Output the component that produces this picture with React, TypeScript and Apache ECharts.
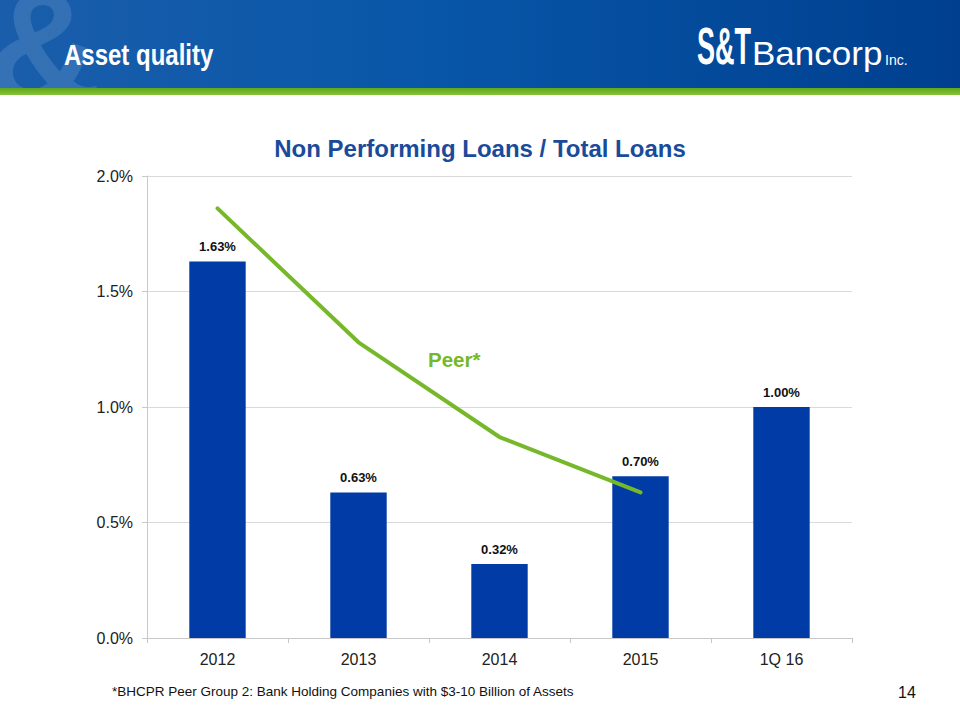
import React, { useEffect, useRef } from "react";
import * as echarts from "echarts";

const categories = ["2012", "2013", "2014", "2015", "1Q 16"];
const npl = [1.63, 0.63, 0.32, 0.7, 1.0];
const peer = [1.86, 1.28, 0.87, 0.63, null];
const yTicks = [0, 0.5, 1.0, 1.5, 2.0];

export default function App() {
  const ref = useRef<HTMLDivElement>(null);
  useEffect(() => {
    if (!ref.current) return;
    const chart = echarts.init(ref.current, null, { renderer: "svg" });
    const font = "Arial, 'Liberation Sans', sans-serif";
    chart.setOption({
      animation: false,
      backgroundColor: "#ffffff",
      title: {
        text: "Non Performing Loans / Total Loans",
        left: "center",
        top: 131,
        textStyle: { color: "#1a4b9b", fontSize: 24, fontWeight: "bold", fontFamily: font },
      },
      grid: { left: 147, right: 108, top: 176, bottom: 82 },
      xAxis: {
        type: "category",
        data: categories,
        axisLine: { lineStyle: { color: "#c8c8c8" } },
        axisTick: { show: true, length: 5, lineStyle: { color: "#c8c8c8" } },
        axisLabel: { color: "#222", fontSize: 16, fontFamily: font, margin: 13 },
      },
      yAxis: {
        type: "value",
        min: yTicks[0],
        max: yTicks[yTicks.length - 1],
        interval: 0.5,
        axisLine: { show: true, lineStyle: { color: "#c8c8c8" } },
        axisTick: { show: true, length: 5, lineStyle: { color: "#c8c8c8" } },
        splitLine: { lineStyle: { color: "#dadada" } },
        axisLabel: {
          color: "#222",
          fontSize: 16,
          fontFamily: font,
          margin: 14,
          formatter: (v: number) => v.toFixed(1) + "%",
        },
      },
      series: [
        {
          type: "bar",
          data: npl,
          barWidth: "40%",
          itemStyle: { color: "#003ba6" },
          label: {
            show: true,
            position: "top",
            distance: 8,
            color: "#111",
            fontSize: 13,
            fontWeight: "bold",
            fontFamily: font,
            formatter: (p: any) => p.value.toFixed(2) + "%",
          },
          z: 2,
        },
        {
          type: "line",
          data: peer,
          smooth: false,
          symbol: "none",
          lineStyle: { color: "#76b82a", width: 4, cap: "round", join: "round" },
          z: 3,
        },
      ],
      graphic: [
        {
          type: "rect",
          shape: { x: 0, y: 0, width: 960, height: 89 },
          style: {
            fill: new echarts.graphic.LinearGradient(0, 0, 1, 0, [
              { offset: 0, color: "#1a5eab" },
              { offset: 0.45, color: "#0856a8" },
              { offset: 1, color: "#003f8f" },
            ]),
          },
          silent: true,
        },
        {
          type: "text",
          x: -14,
          y: -34,
          style: {
            text: "&",
            fontSize: 160,
            fontWeight: "bold",
            fontFamily: font,
            fill: "rgba(255,255,255,0.12)",
          },
          silent: true,
        },
        {
          type: "rect",
          shape: { x: 0, y: 88, width: 960, height: 7 },
          style: {
            fill: new echarts.graphic.LinearGradient(0, 0, 0, 1, [
              { offset: 0, color: "#5fa51a" },
              { offset: 1, color: "#86c43a" },
            ]),
          },
          silent: true,
        },
        {
          type: "text",
          x: 64,
          y: 39,
          scaleX: 0.8,
          style: {
            text: "Asset quality",
            fontSize: 30,
            fontWeight: "bold",
            fontFamily: font,
            fill: "#ffffff",
          },
        },
        {
          type: "text",
          x: 697,
          y: 20,
          scaleX: 0.52,
          style: {
            text: "S&T",
            fontSize: 52,
            fontWeight: "bold",
            fontFamily: font,
            fill: "#ffffff",
          },
        },
        {
          type: "text",
          x: 752,
          y: 36,
          scaleX: 1.03,
          style: {
            text: "Bancorp",
            fontSize: 34,
            fontFamily: font,
            fill: "#ffffff",
          },
        },
        {
          type: "text",
          x: 885,
          y: 53,
          style: {
            text: "Inc.",
            fontSize: 14,
            fontFamily: font,
            fill: "#ffffff",
          },
        },
        {
          type: "text",
          x: 428,
          y: 349,
          style: {
            text: "Peer*",
            fontSize: 20.5,
            fontWeight: "bold",
            fontFamily: font,
            fill: "#76b82a",
          },
        },
        {
          type: "text",
          x: 112,
          y: 684,
          style: {
            text: "*BHCPR Peer Group 2: Bank Holding Companies with $3-10 Billion of Assets",
            fontSize: 13.5,
            fontFamily: font,
            fill: "#111",
          },
        },
        {
          type: "text",
          x: 898,
          y: 684,
          style: {
            text: "14",
            fontSize: 16,
            fontFamily: font,
            fill: "#111",
          },
        },
      ],
    });
    return () => chart.dispose();
  }, []);
  return (
    <div
      ref={ref}
      style={{ position: "fixed", left: 0, top: 0, width: 960, height: 720 }}
    />
  );
}
